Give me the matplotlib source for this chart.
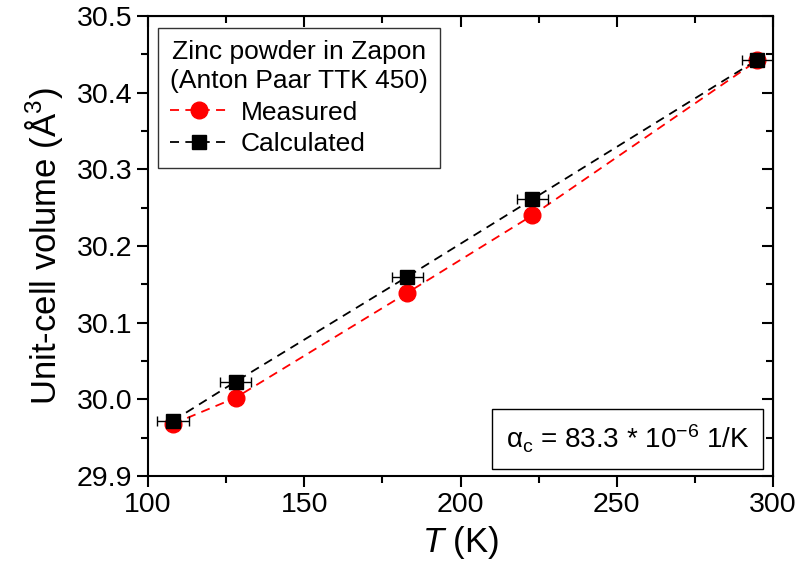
import matplotlib
matplotlib.use("Agg")
import matplotlib.pyplot as plt
from matplotlib.ticker import MultipleLocator
from matplotlib.lines import Line2D

plt.rcParams['font.family'] = ['Liberation Sans', 'DejaVu Sans']
plt.rcParams['mathtext.fontset'] = 'custom'
plt.rcParams['mathtext.rm'] = 'Liberation Sans'
plt.rcParams['mathtext.it'] = 'Liberation Sans:italic'

temperature = [108, 128, 183, 223, 295]
measured = [29.968, 30.002, 30.139, 30.240, 30.442]
measured_err = [0.006, 0.005, 0.006, 0.006, 0.005]
calculated = [29.972, 30.023, 30.160, 30.261, 30.443]
temp_err = [5, 5, 5, 5, 5]

fig = plt.figure(figsize=(7.99, 5.81), dpi=100)
ax = fig.add_axes([148/799, 1-476/581, 625/799, 460/581])

dash = (5, 3.5)
ax.errorbar(temperature, measured, yerr=measured_err, fmt='o', color='red',
            ms=12, ecolor='red', elinewidth=1, capsize=3, zorder=3)
ax.plot(temperature, measured, color='red', lw=1.3, dashes=dash, zorder=2)
ax.errorbar(temperature, calculated, xerr=temp_err, fmt='s', color='black',
            ms=10.5, ecolor='black', elinewidth=1, capsize=3.5, zorder=4)
ax.plot(temperature, calculated, color='black', lw=1.3, dashes=dash, zorder=2)

ax.set_xlim(100, 300)
ax.set_ylim(29.9, 30.5)
ax.xaxis.set_major_locator(MultipleLocator(50))
ax.xaxis.set_minor_locator(MultipleLocator(25))
ax.yaxis.set_major_locator(MultipleLocator(0.1))
ax.yaxis.set_minor_locator(MultipleLocator(0.05))
ax.tick_params(which='both', direction='out', labelsize=20.5, width=1.5)
ax.tick_params(which='major', length=8)
ax.tick_params(which='minor', length=5)
for s in ax.spines.values():
    s.set_linewidth(1.5)

# inward mirrored ticks on top/right
axt = ax.secondary_xaxis('top')
axt.xaxis.set_major_locator(MultipleLocator(50))
axt.xaxis.set_minor_locator(MultipleLocator(25))
axt.tick_params(which='both', direction='in', labeltop=False, width=1.5)
axt.tick_params(which='major', length=8)
axt.tick_params(which='minor', length=5)
axr = ax.secondary_yaxis('right')
axr.yaxis.set_major_locator(MultipleLocator(0.1))
axr.yaxis.set_minor_locator(MultipleLocator(0.05))
axr.tick_params(which='both', direction='in', labelright=False, width=1.5)
axr.tick_params(which='major', length=8)
axr.tick_params(which='minor', length=5)

ax.yaxis.set_major_formatter(matplotlib.ticker.FormatStrFormatter('%.1f'))
ax.set_xlabel(r'$T$ (K)', fontsize=25, labelpad=4)
ax.set_ylabel('Unit-cell volume (Å$^3$)', fontsize=25, labelpad=8)

handles = [
    Line2D([], [], color='red', dashes=dash, marker='o', ms=12, lw=1.3),
    Line2D([], [], color='black', dashes=dash, marker='s', ms=10.5, lw=1.3),
]
leg = ax.legend(handles, ['Measured', 'Calculated'],
                title='Zinc powder in Zapon\n(Anton Paar TTK 450)',
                loc='upper left', bbox_to_anchor=(0.016, 0.974),
                fontsize=19, title_fontsize=19, frameon=True, fancybox=False,
                edgecolor='black', handlelength=2.2, borderpad=0.45,
                labelspacing=0.3, handletextpad=0.5, borderaxespad=0.0,
                alignment='left')
leg.get_frame().set_linewidth(1.0)
leg.get_title().set_linespacing(1.25)
leg.get_title().set_multialignment('center')

ax.text(0.962, 0.045, r'$\mathrm{\alpha_c}$ = 83.3 * 10$^{-6}$ 1/K',
        transform=ax.transAxes, ha='right', va='bottom', fontsize=20,
        bbox=dict(boxstyle='square,pad=0.5', fc='white', ec='black', lw=1.0))

fig.savefig('out.png', dpi=100)
